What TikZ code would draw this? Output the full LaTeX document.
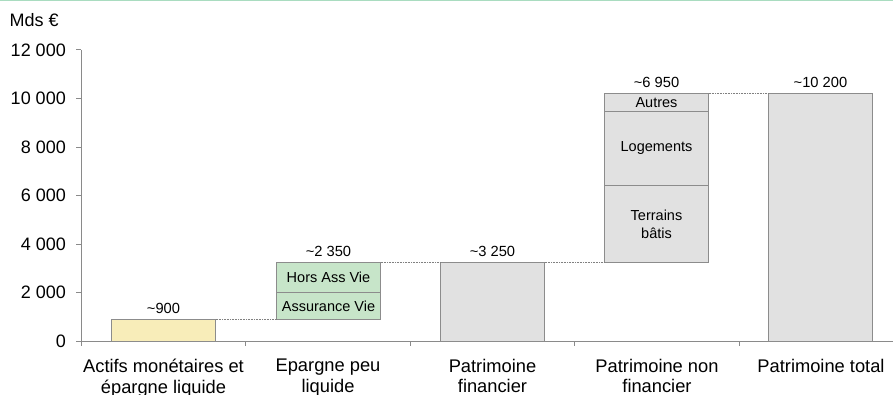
\documentclass[tikz,border=0pt]{standalone}
\usepackage{fontspec}
\setmainfont{Liberation Sans}
\definecolor{topgreen}{HTML}{A9DCC0}
\definecolor{yelfill}{HTML}{F8EDB9}
\definecolor{grnfill}{HTML}{C7E5C9}
\definecolor{gryfill}{HTML}{E1E1E1}
\definecolor{edgegray}{HTML}{8C8C8C}
\definecolor{axisgray}{HTML}{8A8A8A}
\begin{document}
\begin{tikzpicture}[x=1pt,y=1pt,
  axl/.style={font=\fontsize{18}{21}\selectfont, inner sep=0pt},
  catl/.style={font=\fontsize{18.3}{20.5}\selectfont, inner sep=0pt, align=center, anchor=north},
  vall/.style={font=\fontsize{14.7}{16}\selectfont, inner sep=0pt, anchor=base},
  segl/.style={font=\fontsize{14.5}{18}\selectfont, inner sep=0pt, align=center},
  seg/.style={draw=edgegray, line width=0.9pt},
  axisline/.style={draw=axisgray, line width=0.8pt},
  link/.style={draw=gray, line width=0.6pt, densely dotted}]
\useasboundingbox (0,0) rectangle (893,394);
\draw[topgreen, line width=2pt] (0,394) -- (893,394);
\node[axl, anchor=west] (unit) at (9.5,374) {Mds €};
\begin{scope}[yshift=53pt, y=0.024258pt]
  % axes
  \draw[axisline] (81,12000) -- (81,0) -- (893,0);
  \foreach \v/\t in {0/0,2000/2 000,4000/4 000,6000/6 000,8000/8 000,10000/10 000,12000/12 000}{
    \draw[axisline] (76,\v) -- (81,\v);
    \node[axl, anchor=east] (yl\v) at (66,\v) {\t};
  }
  \foreach \x in {81,245.5,410,574.5,739}{
    \draw[axisline] (\x,0) -- (\x,-220);
  }
  % bar 1
  \draw[seg, fill=yelfill] (111.5,0) coordinate (b1bl) rectangle (215.5,900) coordinate (b1tr);
  \node[vall] (v1) at (163.5,1150) {\textasciitilde900};
  % bar 2
  \draw[seg, fill=grnfill] (276.5,900) coordinate (b2bl) rectangle (380.5,2000);
  \draw[seg, fill=grnfill] (276.5,2000) rectangle (380.5,3250) coordinate (b2tr);
  \coordinate (b2tl) at (276.5,3250);
  \node[segl] (s2a) at (328.5,1450) {Assurance Vie};
  \node[segl] (s2b) at (328.5,2625) {Hors Ass Vie};
  \node[vall] (v2) at (328.5,3500) {\textasciitilde2 350};
  % bar 3
  \draw[seg, fill=gryfill] (440.5,0) rectangle (544.5,3250) coordinate (b3tr);
  \coordinate (b3tl) at (440.5,3250);
  \node[vall] (v3) at (492.5,3500) {\textasciitilde3 250};
  % bar 4
  \draw[seg, fill=gryfill] (604.5,3250) coordinate (b4bl) rectangle (708.5,6400);
  \draw[seg, fill=gryfill] (604.5,6400) rectangle (708.5,9480);
  \draw[seg, fill=gryfill] (604.5,9480) rectangle (708.5,10200) coordinate (b4tr);
  \node[segl] (s4a) at (656.5,4825) {Terrains\\bâtis};
  \node[segl] (s4b) at (656.5,7940) {Logements};
  \node[segl] (s4c) at (656.5,9840) {Autres};
  \node[vall] (v4) at (656.5,10450) {\textasciitilde6 950};
  % bar 5
  \draw[seg, fill=gryfill] (768.5,0) rectangle (872.5,10200);
  \coordinate (b5tl) at (768.5,10200);
  \node[vall] (v5) at (820.5,10450) {\textasciitilde10 200};
  % links
  \coordinate (b2l1) at (276.5,900);
  \draw[link] (b1tr) -- (b2l1);
  \draw[link] (b2tr) -- (b3tl);
  \draw[link] (b3tr) -- (b4bl);
  \draw[link] (b4tr) -- (b5tl);
\end{scope}
% category labels
\node[catl] (c1) at (163.5,35) {Actifs monétaires et\\épargne liquide};
\node[catl] (c2) at (328,35) {Epargne peu\\liquide};
\node[catl] (c3) at (492.5,35) {Patrimoine\\financier};
\node[catl] (c4) at (657,35) {Patrimoine non\\financier};
\node[catl] (c5) at (821,35) {Patrimoine total};
\end{tikzpicture}
\end{document}
